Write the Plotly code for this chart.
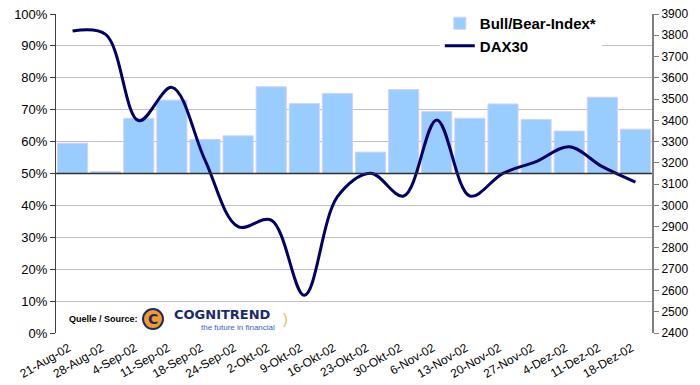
import plotly.graph_objects as go

categories = ["21-Aug-02", "28-Aug-02", "4-Sep-02", "11-Sep-02", "18-Sep-02", "24-Sep-02",
              "2-Okt-02", "9-Okt-02", "16-Okt-02", "23-Okt-02", "30-Okt-02", "6-Nov-02",
              "13-Nov-02", "20-Nov-02", "27-Nov-02", "4-Dez-02", "11-Dez-02", "18-Dez-02"]
bull_bear = [59.5, 50.6, 67.3, 73.0, 60.7, 61.8, 77.2, 71.9, 75.1, 56.7, 76.3, 69.4,
             67.3, 71.8, 66.9, 63.3, 73.9, 63.9]
dax30 = [3820, 3804, 3398, 3555, 3213, 2900, 2931, 2577, 3041, 3151, 3044, 3402,
         3044, 3151, 3206, 3276, 3182, 3110]
base_level = 50
left_ticks = list(range(0, 101, 10))
right_ticks = list(range(2400, 3901, 100))

FONT = "Arial, Liberation Sans, sans-serif"

fig = go.Figure()
fig.add_trace(go.Bar(
    x=categories, y=[v - base_level for v in bull_bear], base=base_level,
    name="Bull/Bear-Index*", marker=dict(color="#99CCFF", line=dict(color="#D0D0FF", width=1)),
    yaxis="y"))
fig.add_trace(go.Scatter(
    x=categories, y=dax30, name="DAX30", mode="lines",
    line=dict(color="#000066", width=3, shape="spline", smoothing=1.0),
    yaxis="y2"))

fig.update_layout(
    width=700, height=385,
    margin=dict(l=56, r=48, t=14, b=52, autoexpand=False),
    paper_bgcolor="white", plot_bgcolor="white",
    font=dict(family=FONT, color="black", size=13),
    bargap=0.09,
    showlegend=True,
    legend=dict(x=0.644, y=1.022, xanchor="left", yanchor="top", bgcolor="white",
                font=dict(size=15, family=FONT, color="black", weight="bold"),
                itemwidth=30),
    xaxis=dict(type="category", tickangle=-30, showgrid=False, showline=False,
               ticks="", tickfont=dict(size=12, family=FONT), range=[-0.5, 17.5],
               automargin=False, ticklabelshift=-4, ticklabelstandoff=5),
    yaxis=dict(range=[0, 100], tickvals=left_ticks, ticktext=[f"{t}%" for t in left_ticks],
               showgrid=True, gridcolor="#C0C0C0", gridwidth=1, showline=True,
               linecolor="#404040", linewidth=1, ticks="outside", ticklen=5,
               tickcolor="#404040", tickfont=dict(size=13, family=FONT), zeroline=False,
               automargin=False),
    yaxis2=dict(range=[2400, 3900], tickvals=right_ticks, overlaying="y", side="right",
                showgrid=False, showline=True, linecolor="#808080", linewidth=2,
                ticks="outside", ticklen=5, tickcolor="#808080",
                tickfont=dict(size=12, family=FONT), zeroline=False, automargin=False),
)

# category axis crossing at 50%
fig.add_shape(type="line", xref="paper", yref="y", x0=0, x1=1, y0=base_level, y1=base_level,
              line=dict(color="#303030", width=1.5), layer="above")

# source logo
fig.add_annotation(xref="paper", yref="paper", x=0.0185, y=0.044, xanchor="left", yanchor="middle",
                   text="<b>Quelle / Source:</b>", showarrow=False,
                   font=dict(size=9, family=FONT, color="black"))
fig.add_shape(type="circle", xref="paper", yref="paper", x0=0.146, x1=0.1795, y0=0.0125, y1=0.0752,
              fillcolor="#F59A23", line=dict(color="#1A2A6C", width=2), layer="above")
fig.add_annotation(xref="paper", yref="paper", x=0.163, y=0.044, xanchor="center", yanchor="middle",
                   text="<b>C</b>", showarrow=False,
                   font=dict(size=14, family="DejaVu Sans", color="#1A2A6C"))
fig.add_annotation(xref="paper", yref="paper", x=0.194, y=0.058, xanchor="left", yanchor="middle",
                   text="<b>COGNITREND</b>", showarrow=False,
                   font=dict(size=13, family="DejaVu Sans", color="#1A2A6C"))
fig.add_annotation(xref="paper", yref="paper", x=0.24, y=0.018, xanchor="left", yanchor="middle",
                   text="the future in financial", showarrow=False,
                   font=dict(size=8, family=FONT, color="#3366CC"))
fig.add_annotation(xref="paper", yref="paper", x=0.378, y=0.045, xanchor="left", yanchor="middle",
                   text=")", showarrow=False,
                   font=dict(size=14, family=FONT, color="#F5B060"))

fig.write_html("out.html", config={"displayModeBar": False},
               post_script="document.body.style.margin='0';")
